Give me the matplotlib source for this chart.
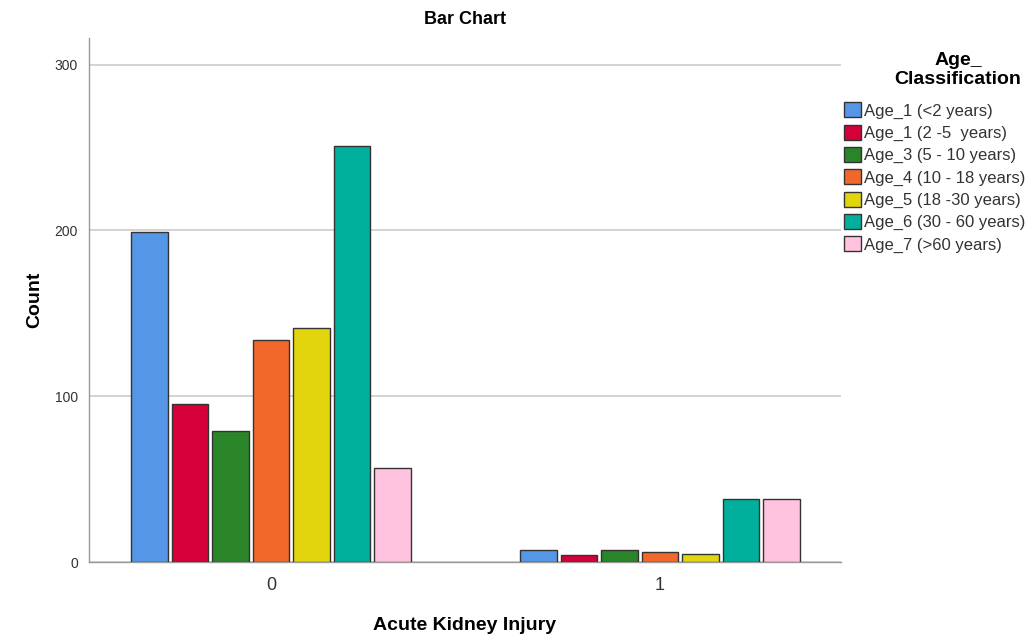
import matplotlib.pyplot as plt
import numpy as np

plt.rcParams['font.family'] = ['Liberation Sans', 'DejaVu Sans']

groups = ['0', '1']
age_labels = ['Age_1 (<2 years)', 'Age_1 (2 -5  years)', 'Age_3 (5 - 10 years)',
              'Age_4 (10 - 18 years)', 'Age_5 (18 -30 years)', 'Age_6 (30 - 60 years)',
              'Age_7 (>60 years)']
counts_0 = [199, 95, 79, 134, 141, 251, 57]
counts_1 = [7, 4, 7, 6, 5, 38, 38]
colors = ['#5596E6', '#D5003A', '#2A8428', '#F2682B', '#E2D50E', '#00B09C', '#FFC3E0']

fig = plt.figure(figsize=(10.34, 6.41), dpi=100)
ax = fig.add_axes([0.0861, 0.1232, 0.7272, 0.8175])

x = np.arange(len(groups))
pitch = 0.104
width = 0.094
for i, lab in enumerate(age_labels):
    vals = [counts_0[i], counts_1[i]]
    ax.bar(x + (i - 3) * pitch, vals, width, color=colors[i], edgecolor='#333333',
           linewidth=1, label=lab, zorder=3)

ax.set_xlim(-0.468, 1.465)
ax.set_ylim(0, 316)
ax.set_yticks([0, 100, 200, 300])
ax.set_xticks(x)
ax.set_xticklabels(groups, fontsize=13, color='#333333')
ax.tick_params(axis='y', labelsize=10, colors='#333333', length=0, pad=8)
ax.tick_params(axis='x', length=0, pad=11)
ax.grid(axis='y', color='#CCCCCC', linewidth=1.2, zorder=0)
for s in ['top', 'right']:
    ax.spines[s].set_visible(False)
for s in ['left', 'bottom']:
    ax.spines[s].set_color('#999999')
    ax.spines[s].set_linewidth(1)

ax.set_title('Bar Chart', fontsize=13, fontweight='bold', pad=10)
ax.set_xlabel('Acute Kidney Injury', fontsize=14, fontweight='bold', labelpad=16)
ax.set_ylabel('Count', fontsize=14, fontweight='bold', labelpad=8)

# legend title drawn separately to get the gap seen in the original
fig.text(0.9265, 0.891, 'Age_\nClassification', ha='center', va='center',
         fontsize=14, fontweight='bold', linespacing=1.2)
leg = ax.legend(loc='upper left', bbox_to_anchor=(1.004, 0.877), frameon=False,
                fontsize=12, handlelength=1.05, handleheight=1.0, handletextpad=0.15,
                labelspacing=0.36, borderaxespad=0, borderpad=0)
for t in leg.get_texts():
    t.set_color('#333333')

fig.savefig('out.png', dpi=100)
